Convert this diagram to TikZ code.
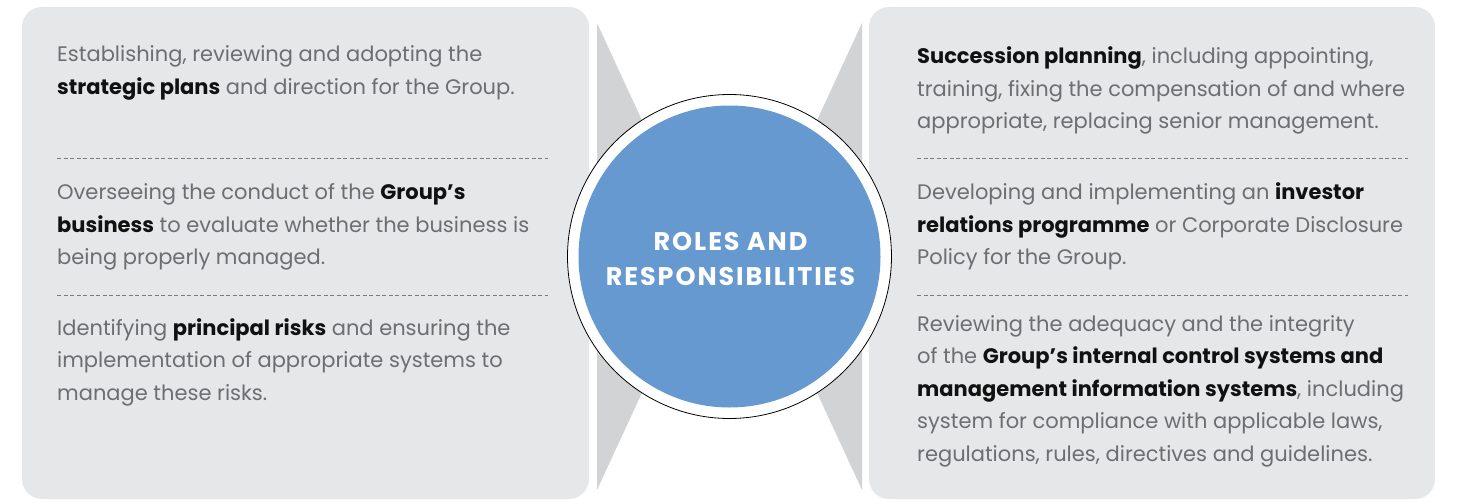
\documentclass[tikz,border=0pt]{standalone}
\usepackage{fontspec}
\setmainfont{Poppins}
\definecolor{panelgray}{HTML}{E6E7E8}
\definecolor{wedgegray}{HTML}{D1D3D4}
\definecolor{circblue}{HTML}{6699CF}
\definecolor{bodygray}{HTML}{6D6E71}
\definecolor{boldblack}{HTML}{111111}
\definecolor{dashgray}{HTML}{7A7B7E}
\newcommand\hl[1]{\textcolor{boldblack}{\textbf{#1}}}
\begin{document}
\begin{tikzpicture}[x=1pt,y=-1pt,
  panel/.style={fill=panelgray, rounded corners=20pt},
  wedge/.style={fill=wedgegray},
  body/.style={anchor=base west, inner sep=0pt, align=left, text=bodygray,
    font=\fontsize{21}{32.5}\selectfont},
  sepline/.style={draw=dashgray, dash pattern=on 4pt off 2.5pt, line width=0.9pt},
  title/.style={text=white, align=center, inner sep=0pt, anchor=base,
    font=\fontsize{25.5}{35}\selectfont\bfseries\addfontfeature{LetterSpace=7.5}}]
\useasboundingbox (0,0) rectangle (1457,503);
% panels
\fill[panel] (22,7) rectangle (589,499);
\fill[panel] (869,7) rectangle (1435,499);
% wedges
\fill[wedge] (597,23) -- (705,256.5) -- (597,490) -- cycle;
\fill[wedge] (862,23) -- (754,256.5) -- (862,490) -- cycle;
% circle
\node[circle, draw=black, line width=0.8pt, fill=white, minimum size=324pt, inner sep=0pt] (ring) at (729.5,256.5) {};
\node[circle, fill=circblue, minimum size=302pt, inner sep=0pt] (core) at (ring.center) {};
\node[title] (ttl) at (730.5,285) {ROLES AND\\RESPONSIBILITIES};
% dashed separators
\coordinate (l1a) at (57,158); \coordinate (l1b) at (548,158);
\coordinate (l2a) at (57,295); \coordinate (l2b) at (548,295);
\coordinate (r1a) at (917,158); \coordinate (r1b) at (1408,158);
\coordinate (r2a) at (917,295); \coordinate (r2b) at (1408,295);
\draw[sepline] (l1a) -- (l1b);
\draw[sepline] (l2a) -- (l2b);
\draw[sepline] (r1a) -- (r1b);
\draw[sepline] (r2a) -- (r2b);
% left texts (anchored at the baseline of the last line)
\node[body] (lt1) at (57,94.3) {Establishing, reviewing and adopting the\\
\hl{strategic plans} and direction for the Group.};
\node[body] (lt2) at (57,264.5) {Overseeing the conduct of the \hl{Group’s}\\
\hl{business} to evaluate whether the business is\\
being properly managed.};
\node[body] (lt3) at (57,400) {Identifying \hl{principal risks} and ensuring the\\
implementation of appropriate systems to\\
manage these risks.};
% right texts
\node[body] (rt1) at (917,128.5) {\hl{Succession planning}, including appointing,\\
training, fixing the compensation of and where\\
appropriate, replacing senior management.};
\node[body] (rt2) at (917,264.5) {Developing and implementing an \hl{investor}\\
\hl{relations programme} or Corporate Disclosure\\
Policy for the Group.};
\node[body] (rt3) at (917,461) {Reviewing the adequacy and the integrity\\
of the \hl{Group’s internal control systems and}\\
\hl{management information systems}, including\\
system for compliance with applicable laws,\\
regulations, rules, directives and guidelines.};
\end{tikzpicture}
\end{document}
